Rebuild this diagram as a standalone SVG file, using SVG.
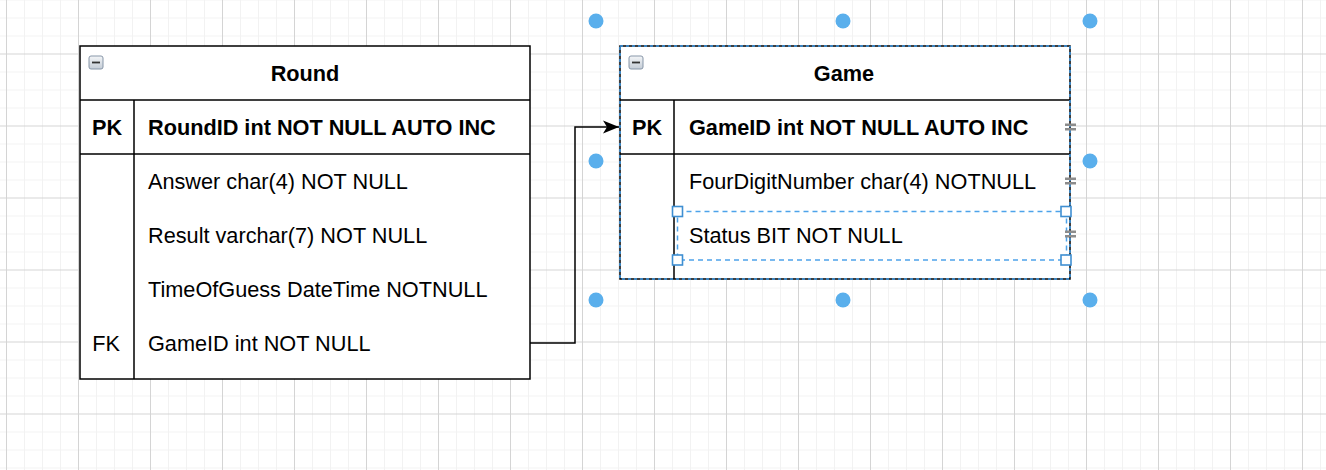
<svg xmlns="http://www.w3.org/2000/svg" width="1326" height="470" viewBox="0 0 1326 470">
<defs>
<pattern id="grid" x="78" y="53.5" width="72" height="72" patternUnits="userSpaceOnUse">
<path d="M18.5 0V72M36.5 0V72M54.5 0V72M0 18.5H72M0 36.5H72M0 54.5H72" stroke="#f2f2f2" stroke-width="1" fill="none"/>
<path d="M0.5 0V72M0 0.5H72" stroke="#d4d4d4" stroke-width="1" fill="none"/>
</pattern>
<linearGradient id="icoG" x1="0" y1="0" x2="0" y2="1">
<stop offset="0" stop-color="#f4f6f8"/>
<stop offset="1" stop-color="#c4ccd6"/>
</linearGradient>
<marker id="arr" markerWidth="18" markerHeight="14" refX="16" refY="7" orient="auto" markerUnits="userSpaceOnUse">
<path d="M0,0.5 L16,7 L0,13.5 L4,7 Z" fill="#000"/>
</marker>
<style>
.tb{fill:#fff;stroke:#000;stroke-width:1.5}
.ln{stroke:#000;stroke-width:1.5;fill:none}
.t{font-family:"Liberation Sans",Arial,sans-serif;font-size:21.7px;fill:#000}
.b{font-weight:bold}
.c{text-anchor:middle}
.dot{fill:#5aafec}
.hd{fill:#fff;stroke:#3f8fd2;stroke-width:1.6}
.sel{fill:none;stroke:#4da3ea;stroke-width:1.5;stroke-dasharray:5 4}
.ico{fill:url(#icoG);stroke:#8796a8;stroke-width:1}
.mk{fill:#8c8c8c}
</style>
</defs>
<rect width="1326" height="470" fill="#fff"/>
<rect width="1326" height="470" fill="url(#grid)"/>

<g id="connectors">
<path class="ln" d="M530,343 H575 V127 H619" marker-end="url(#arr)"/>
</g>

<g id="round">
<rect class="tb" x="80" y="46" width="450" height="333"/>
<path class="ln" d="M80,100 H530 M80,154 H530 M134,100 V379"/>
<rect class="ico" x="89" y="56" width="14" height="13" rx="2"/>
<path d="M92,62.5 H100" stroke="#333" stroke-width="1.8"/>
<text class="t b c" x="305" y="80.5">Round</text>
<text class="t b c" x="107" y="134.5">PK</text>
<text class="t b" x="148" y="134.5">RoundID int NOT NULL AUTO INC</text>
<text class="t" x="148" y="188.5">Answer char(4) NOT NULL</text>
<text class="t" x="148" y="242.5">Result varchar(7) NOT NULL</text>
<text class="t" x="148" y="296.5">TimeOfGuess DateTime NOTNULL</text>
<text class="t c" x="106" y="350.5">FK</text>
<text class="t" x="148" y="350.5">GameID int NOT NULL</text>
</g>

<g id="game">
<rect class="tb" x="620" y="46" width="450" height="233"/>
<path class="ln" d="M620,100 H1070 M620,154 H1070 M674,100 V279"/>
<rect x="620" y="46" width="450" height="233" fill="none" stroke="#3d9be9" stroke-width="1.5" stroke-dasharray="3 3"/>
<rect class="ico" x="629" y="56" width="14" height="13" rx="2"/>
<path d="M632,62.5 H640" stroke="#333" stroke-width="1.8"/>
<text class="t b c" x="844" y="80.5">Game</text>
<text class="t b c" x="647" y="134.5">PK</text>
<text class="t b" x="689" y="134.5">GameID int NOT NULL AUTO INC</text>
<text class="t" x="689" y="188.5">FourDigitNumber char(4) NOTNULL</text>
<text class="t" x="689" y="242.5">Status BIT NOT NULL</text>
<rect class="sel" x="677.5" y="211.5" width="389" height="48.5"/>
<rect class="hd" x="672.5" y="206.5" width="10" height="10"/>
<rect class="hd" x="1061" y="206.5" width="10" height="10"/>
<rect class="hd" x="672.5" y="255" width="10" height="10"/>
<rect class="hd" x="1061" y="255" width="10" height="10"/>
<path class="mk" d="M1065,123.5h11v2.5h-11z M1065,128h11v2.5h-11z"/>
<path class="mk" d="M1065,177.5h11v2.5h-11z M1065,182h11v2.5h-11z"/>
<path class="mk" d="M1065,230.5h11v2.5h-11z M1065,235h11v2.5h-11z"/>
<circle class="dot" cx="596" cy="21" r="7.5"/>
<circle class="dot" cx="843" cy="21" r="7.5"/>
<circle class="dot" cx="1090" cy="21" r="7.5"/>
<circle class="dot" cx="596" cy="161" r="7.5"/>
<circle class="dot" cx="1090" cy="161" r="7.5"/>
<circle class="dot" cx="596" cy="300" r="7.5"/>
<circle class="dot" cx="843" cy="300" r="7.5"/>
<circle class="dot" cx="1090" cy="300" r="7.5"/>
</g>
</svg>
